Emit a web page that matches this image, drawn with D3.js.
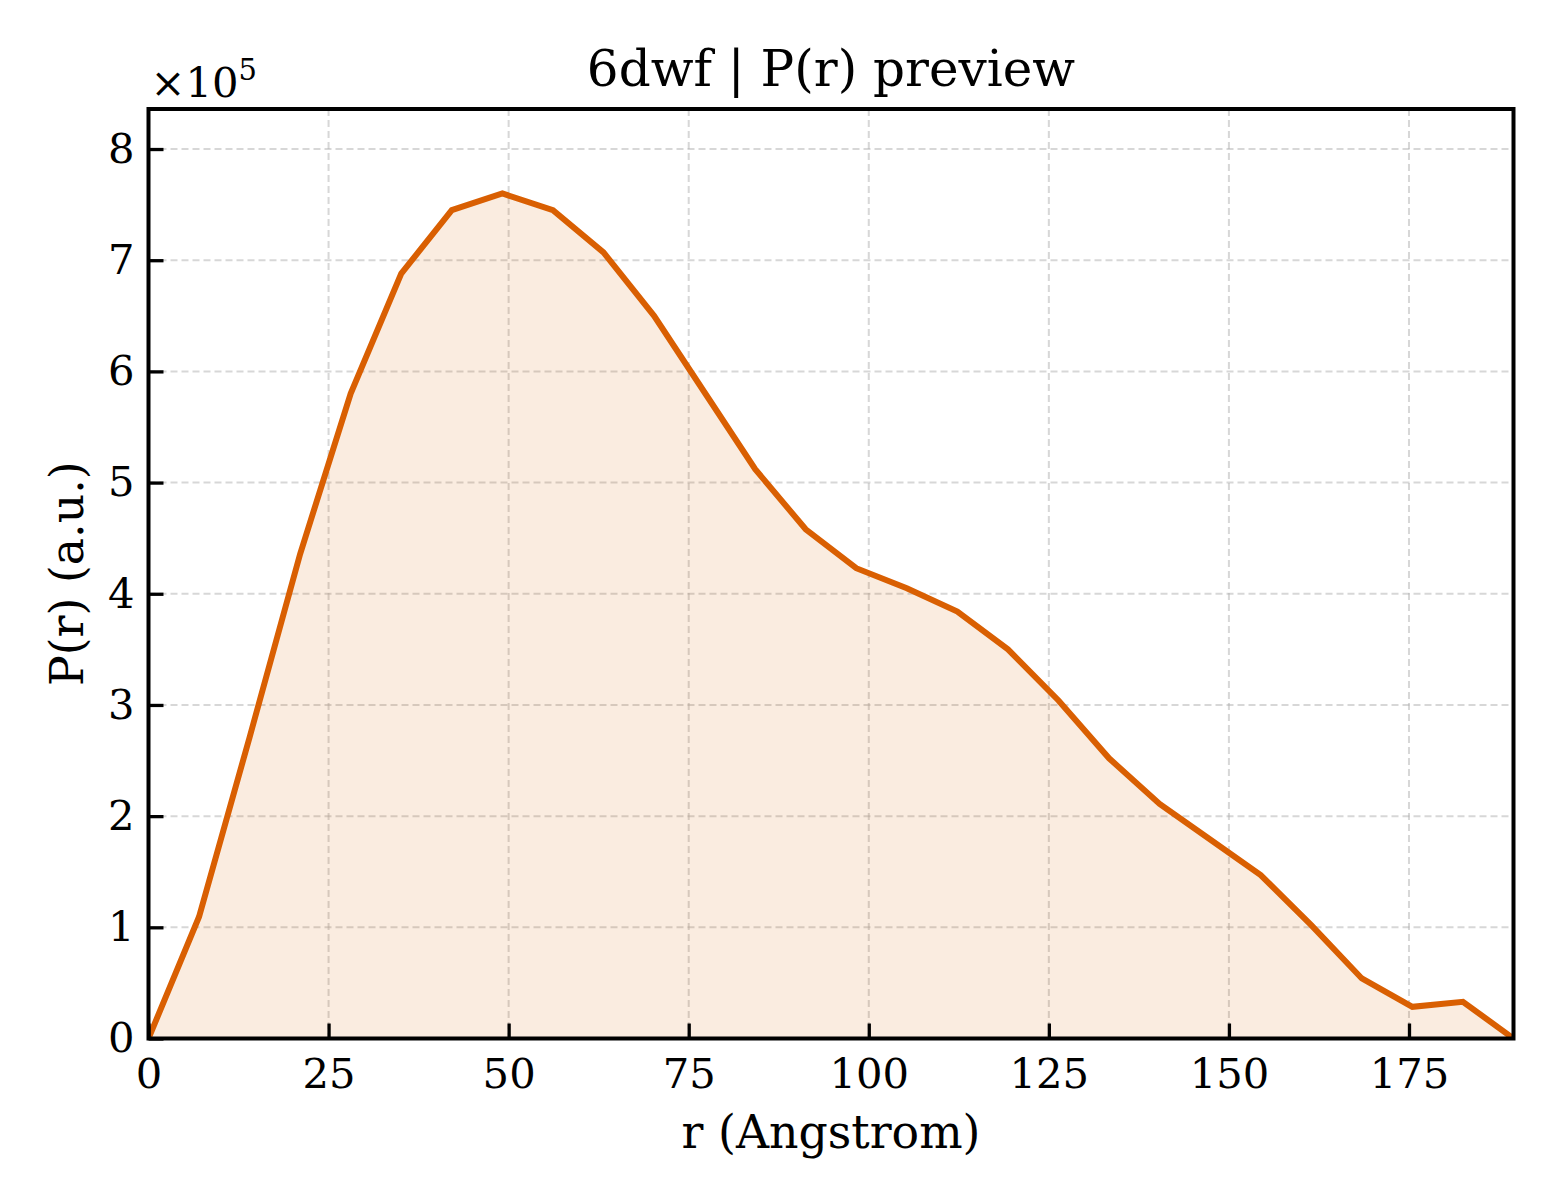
<!DOCTYPE html>
<html>
<head>
<meta charset="utf-8">
<script src="https://cdn.jsdelivr.net/npm/d3@7"></script>
<style>
  html, body { margin: 0; padding: 0; background: #fff; }
  svg { display: block; }
  text { font-family: "DejaVu Serif", serif; fill: #000; }
</style>
</head>
<body>
<svg id="chart" width="1560" height="1200"></svg>
<script>
// ---- data ----
const title = "6dwf | P(r) preview";
const xLabel = "r (Angstrom)";
const yLabel = "P(r) (a.u.)";
const rValues = [0, 7.02, 14.04, 21.06, 28.07, 35.09, 42.11, 49.13, 56.15, 63.17,
                 70.19, 77.21, 84.23, 91.24, 98.26, 105.28, 112.30, 119.32, 126.34, 133.36,
                 140.38, 147.40, 154.41, 161.43, 168.45, 175.47, 182.49, 189.51];
const pValues = [0, 1.095e5, 2.71e5, 4.36e5, 5.80e5, 6.88e5, 7.45e5, 7.60e5, 7.45e5, 7.07e5,
                 6.50e5, 5.81e5, 5.12e5, 4.58e5, 4.23e5, 4.05e5, 3.84e5, 3.50e5, 3.04e5, 2.52e5,
                 2.11e5, 1.79e5, 1.47e5, 1.02e5, 0.54e5, 0.285e5, 0.33e5, 0];
const xTicks = [0, 25, 50, 75, 100, 125, 150, 175];
const yTicks = [0, 1e5, 2e5, 3e5, 4e5, 5e5, 6e5, 7e5, 8e5];
const yExponent = 5;

const data = rValues.map((r, i) => ({ r, p: pValues[i] }));

// ---- layout ----
const L = 148.5, T = 109, R = 1513.5, B = 1038.5;
const svg = d3.select("#chart");

const x = d3.scaleLinear().domain([0, d3.max(rValues)]).range([L, R]);
const y = d3.scaleLinear().domain([0, d3.max(pValues) * 1.1]).range([B, T]);

const lineColor = "#d95f02";

// grid
const grid = svg.append("g");
grid.selectAll(".gx").data(xTicks).join("line")
  .attr("x1", d => x(d)).attr("x2", d => x(d)).attr("y1", T).attr("y2", B)
  .attr("stroke", "#b0b0b0").attr("stroke-opacity", 0.5).attr("stroke-width", 2)
  .attr("stroke-dasharray", "7,4");
grid.selectAll(".gy").data(yTicks).join("line")
  .attr("y1", d => y(d)).attr("y2", d => y(d)).attr("x1", L).attr("x2", R)
  .attr("stroke", "#b0b0b0").attr("stroke-opacity", 0.5).attr("stroke-width", 2)
  .attr("stroke-dasharray", "7,4");

// area + line
const area = d3.area().x(d => x(d.r)).y0(y(0)).y1(d => y(d.p));
const line = d3.line().x(d => x(d.r)).y(d => y(d.p));
svg.append("clipPath").attr("id", "clip").append("rect")
  .attr("x", L).attr("y", T).attr("width", R - L).attr("height", B - T);
svg.append("path").datum(data).attr("d", area)
  .attr("fill", lineColor).attr("fill-opacity", 0.12);
svg.append("path").datum(data).attr("d", line)
  .attr("fill", "none").attr("stroke", lineColor).attr("stroke-width", 6)
  .attr("stroke-linejoin", "miter").attr("clip-path", "url(#clip)");

// axes with inward ticks
const tickFont = 41.7;
const xAxis = d3.axisBottom(x).tickValues(xTicks).tickSize(-15).tickPadding(30)
  .tickFormat(d3.format("d"));
const yAxis = d3.axisLeft(y).tickValues(yTicks).tickSize(-15).tickPadding(30)
  .tickFormat(d => d3.format("d")(d / Math.pow(10, yExponent)));

const gx = svg.append("g").attr("transform", `translate(0,${B})`).call(xAxis);
const gy = svg.append("g").attr("transform", `translate(${L},0)`).call(yAxis);
[gx, gy].forEach(g => {
  g.select(".domain").remove();
  g.selectAll(".tick line").attr("stroke", "#000").attr("stroke-width", 3.3);
  g.selectAll(".tick text").style("font-family", "DejaVu Serif").style("font-size", tickFont + "px")
    .attr("fill", "#000");
});
gx.selectAll(".tick text").attr("dy", "0.71em").attr("y", 20);
gy.selectAll(".tick text").attr("x", -14).attr("dy", "0.32em");

// frame
svg.append("rect").attr("x", L).attr("y", T).attr("width", R - L).attr("height", B - T)
  .attr("fill", "none").attr("stroke", "#000").attr("stroke-width", 4);

// title & labels
svg.append("text").attr("x", (L + R) / 2).attr("y", 86).attr("text-anchor", "middle")
  .style("font-size", "50px").text(title);
svg.append("text").attr("x", (L + R) / 2).attr("y", 1148).attr("text-anchor", "middle")
  .style("font-size", "45.8px").text(xLabel);
svg.append("text").attr("transform", `translate(83,${(T + B) / 2}) rotate(-90)`)
  .attr("text-anchor", "middle").style("font-size", "45.8px").text(yLabel);

// offset text ×10^5
const off = svg.append("text").attr("x", L + 2).attr("y", 97).style("font-size", tickFont + "px");
off.append("tspan").text("\u00d710");
off.append("tspan").attr("dy", -17).style("font-size", "29px").text(String(yExponent));
</script>
</body>
</html>
